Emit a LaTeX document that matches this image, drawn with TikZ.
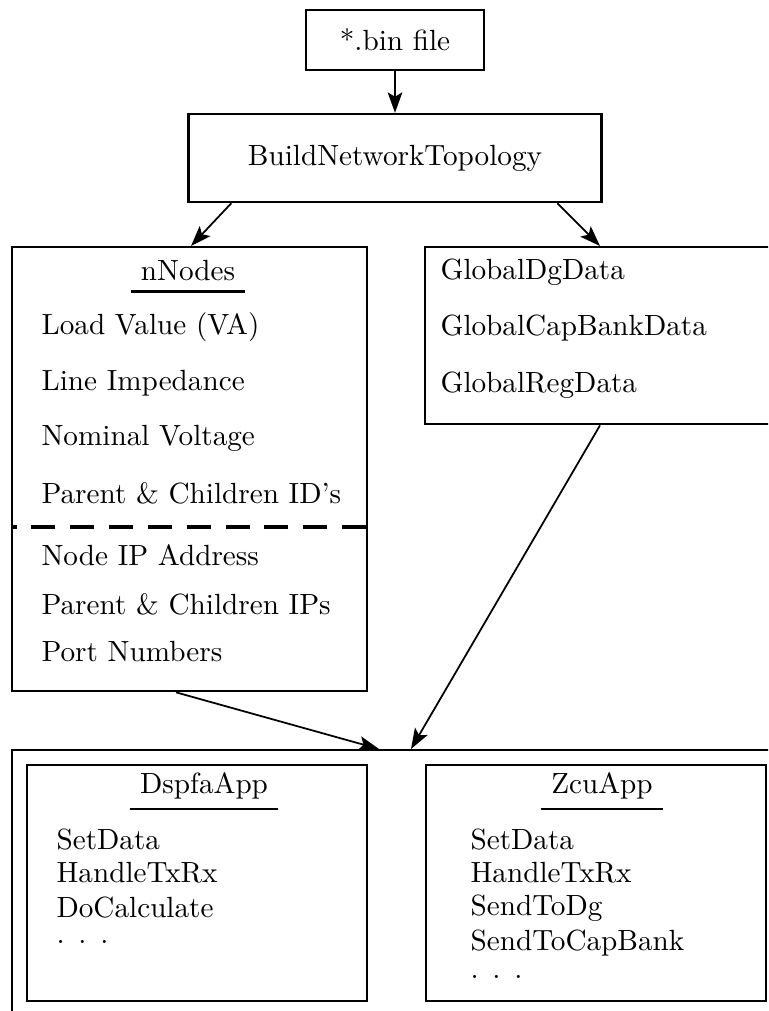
\documentclass[tikz,border=0pt]{standalone}
\usetikzlibrary{arrows.meta,calc}
\newlength\pxu
\setlength\pxu{0.3425pt}
\newcommand{\mydots}{.\hspace{4.7pt}.\hspace{4.7pt}.}
\tikzset{
  box/.style={draw, line width=0.8pt, rectangle, inner sep=0pt},
  title/.style={inner sep=0.3333em},
  uline/.style={line width=0.8pt},
  item/.style={anchor=west, inner sep=0pt},
  arr/.style={line width=0.6pt, -{Stealth[length=7pt,width=5pt,inset=1.5pt]}},
  dashline/.style={line width=1.5pt, dash pattern=on 8.2pt off 5.1pt}
}
\begin{document}
\begin{tikzpicture}[x=\pxu, y=-\pxu]
\useasboundingbox (0,0) rectangle (768,1011);
\clip (0,0) rectangle (768,1011);
% top boxes
\node[box, minimum width={178*\pxu}, minimum height={60*\pxu}] (bin) at (395,40) {*.bin file};
\node[box, minimum width={413*\pxu}, minimum height={88*\pxu}] (bnt) at (395,158) {BuildNetworkTopology};
% nNodes
\node[box, anchor=north west, minimum width={355*\pxu}, minimum height={444*\pxu}] (nn) at (11,246) {};
\node[title] (nt) at (188,271) {nNodes};
\draw[uline] (nt.south west) -- (nt.south east);
\node[item] (n1) at (41,327) {Load Value (VA)};
\node[item] (n2) at (41,383) {Line Impedance};
\node[item] (n3) at (41,438) {Nominal Voltage};
\node[item] (n4) at (41,493) {Parent \& Children ID's};
\coordinate (dl) at (11,527);
\coordinate (dr) at (366,527);
\draw[dashline] (dr) -- (dl);
\node[item] (n5) at (41,555) {Node IP Address};
\node[item] (n6) at (41,604) {Parent \& Children IPs};
\node[item] (n7) at (41,652) {Port Numbers};
% Global
\node[box, anchor=north west, minimum width={352*\pxu}, minimum height={177*\pxu}] (gl) at (424,246) {};
\node[item] (g1) at (440,272) {GlobalDgData};
\node[item] (g2) at (440,328) {GlobalCapBankData};
\node[item] (g3) at (440,385) {GlobalRegData};
% bottom outer
\node[box, anchor=north west, minimum width={800*\pxu}, minimum height={300*\pxu}] (outer) at (11,749) {};
\node[box, anchor=north west, minimum width={340*\pxu}, minimum height={236*\pxu}] (dsp) at (26,764) {};
\node[title] (dt) at (204,785.5) {DspfaApp};
\draw[uline] (dt.south west) -- (dt.south east);
\node[item] (d1) at (56,840) {SetData};
\node[item] (d2) at (56,873) {HandleTxRx};
\node[item] (d3) at (56,908) {DoCalculate};
\node[item] (d4) at (56,942) {\mydots};
\node[box, anchor=north west, minimum width={340*\pxu}, minimum height={236*\pxu}] (zcu) at (425,764) {};
\node[title] (zt) at (602,785.5) {ZcuApp};
\draw[uline] (zt.south west) -- (zt.south east);
\node[item] (z1) at (470,840) {SetData};
\node[item] (z2) at (470,873) {HandleTxRx};
\node[item] (z3) at (470,908) {SendToDg};
\node[item] (z4) at (470,943) {SendToCapBank};
\node[item] (z5) at (470,977) {\mydots};
% arrows
\draw[arr] (bin.south) -- (bnt.north);
\draw[arr] ($(bnt.south west)+(44,0)$) -- ($(nn.north west)+(180,0)$);
\draw[arr] ($(bnt.south west)+(370,0)$) -- ($(gl.north west)+(176,0)$);
\draw[arr] ($(nn.south west)+(165,0)$) -- ($(outer.north west)+(368,0)$);
\draw[arr] ($(gl.south west)+(176,0)$) -- ($(outer.north west)+(400,0)$);
\end{tikzpicture}
\end{document}
